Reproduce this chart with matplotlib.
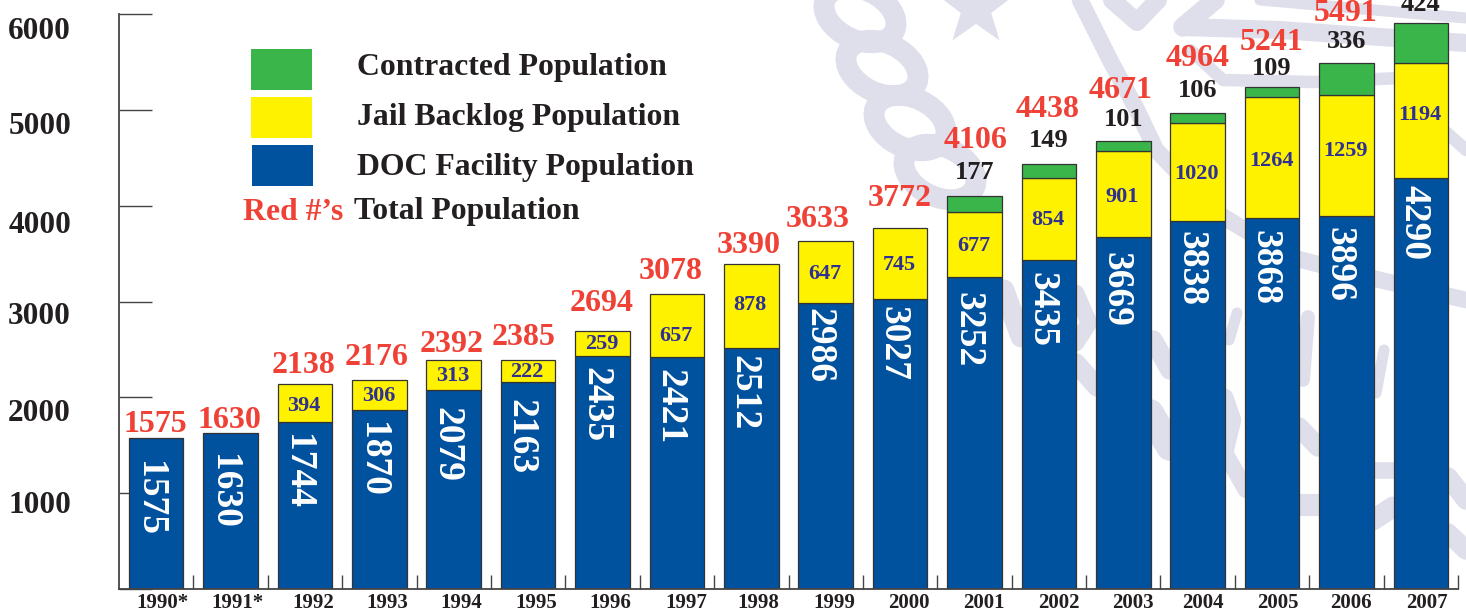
import matplotlib
matplotlib.use('Agg')
import matplotlib.pyplot as plt
from matplotlib.patches import Ellipse, Polygon, Rectangle
from matplotlib.transforms import ScaledTranslation
import numpy as np

plt.rcParams['font.family'] = ['Liberation Serif', 'DejaVu Serif']
plt.rcParams['font.weight'] = 'bold'

W, H = 1466, 611

years = ['1990*', '1991*', '1992', '1993', '1994', '1995', '1996', '1997', '1998',
         '1999', '2000', '2001', '2002', '2003', '2004', '2005', '2006', '2007']
doc_facility = [1575, 1630, 1744, 1870, 2079, 2163, 2435, 2421, 2512,
                2986, 3027, 3252, 3435, 3669, 3838, 3868, 3896, 4290]
jail_backlog = [0, 0, 394, 306, 313, 222, 259, 657, 878,
                647, 745, 677, 854, 901, 1020, 1264, 1259, 1194]
contracted = [0, 0, 0, 0, 0, 0, 0, 0, 0,
              0, 0, 177, 149, 101, 106, 109, 336, 424]
# 2007 total is cut off above the picture
totals = [1575, 1630, 2138, 2176, 2392, 2385, 2694, 3078, 3390,
          3633, 3772, 4106, 4438, 4671, 4964, 5241, 5491, None]
y_ticks = [0, 1000, 2000, 3000, 4000, 5000, 6000]
y_labels = ['', '1000', '2000', '3000', '4000', '5000', '6000']

BLUE = '#00529F'
YELLOW = '#FFF200'
GREEN = '#39B54A'
RED = '#EF4136'
NAVY = '#2E3192'
BLACK = '#231F20'
EDGE = '#333333'
SEAL = '#DEDFEB'

# hand placed label offsets, pixels
total_dx = [-1, -1, -1, -3, -2, -5, -1, -6, -3, -8, 0, 1, -1, -3, 0, 0, -1, 0]
total_dy = [14, 12, 19, 23, 15, 23, 27, 23, 19, 21, 29, 55, 54, 51, 55, 44, 49, 0]
contract_dy = [0] * 11 + [23, 23, 22, 23, 18, 21, 18]
doc_dy = [60, 59, 50, 50, 55, 55, 49, 50, 44, 43, 45, 52, 50, 52, 47, 49, 49, 45]
jail_dy = [0, 0, -3, -1, -1, -1, -1, -10, 1, -2, -2, -1, -1, -3, -2, -3, 4, 6]
y_label_dy = [0, 9, 13, 12, 16, 13, 14]
year_dx = [6, 7, 8, 8, 8, 8, 8, 9, 7, 9, 9, 9, 10, 10, 5, 6, 5, 6]

fig = plt.figure(figsize=(W / 100, H / 100), dpi=100)

# full figure pixel axes for the seal behind the chart and the legend
bg = fig.add_axes([0, 0, 1, 1], zorder=0)
bg.set_xlim(0, W)
bg.set_ylim(H, 0)
bg.axis('off')

# chain links
for cx, cy in [(860, 15), (882, 68), (910, 123), (940, 172)]:
    bg.add_patch(Ellipse((cx, cy), 76, 50, angle=25, fc='none', ec=SEAL, lw=15))

# star
angles = np.deg2rad(np.arange(-90, 270, 36))
radii = np.array([40, 16] * 5)
bg.add_patch(Polygon(np.c_[976 + radii * np.cos(angles), 8 + radii * np.sin(angles)], fc=SEAL, ec='none'))

strokes = [
    ([1080, 1110, 1137, 1156, 1217, 1290, 1380, 1466], [0, 60, 110, 150, 213, 257, 280, 300], 12),
    ([1112, 1137, 1158], [0, 22, 0], 13),
    ([1183, 1280, 1380, 1466], [27, 30, 37, 43], 13),
    ([1190, 1223, 1313, 1400], [50, 80, 82, 78], 9),
    ([1183, 1215], [27, 0], 14),
    ([1260, 1466], [0, 18], 8),
    ([1400, 1447, 1466], [110, 133, 150], 9),
    ([1237, 1229], [313, 340], 8),
    ([1308, 1303], [317, 380], 10),
    ([1384, 1376], [350, 393], 8),
    ([1004, 1021], [290, 337], 15),
    ([1076, 1089, 1076], [293, 323, 343], 12),
    ([1076, 1097], [363, 387], 14),
    ([1153, 1170], [340, 370], 14),
    ([1150, 1170], [413, 447], 20),
    ([1225, 1233, 1225, 1246], [397, 420, 453, 490], 12),
    ([1299, 1318], [427, 447], 14),
    ([1299, 1318], [505, 505], 16),
    ([1373, 1393], [470, 470], 12),
    ([1373, 1393], [520, 507], 15),
    ([1448, 1466], [477, 500], 14),
    ([1448, 1466], [533, 550], 14),
]
for xs, ys, lw in strokes:
    bg.plot(xs, ys, color=SEAL, lw=lw, solid_capstyle='round', solid_joinstyle='round')

# legend
for x0, y0, col in [(251, 49, GREEN), (251, 97, YELLOW), (252, 145, BLUE)]:
    bg.add_patch(Rectangle((x0, y0), 61, 41, fc=col, ec='none'))
legend_size = 22.9
bg.text(357, 67, 'Contracted Population', fontsize=legend_size, color=BLACK, va='center')
bg.text(357, 117, 'Jail Backlog Population', fontsize=legend_size, color=BLACK, va='center')
bg.text(357, 167, 'DOC Facility Population', fontsize=legend_size, color=BLACK, va='center')
bg.text(354, 211, 'Total Population', fontsize=legend_size, color=BLACK, va='center')
bg.text(343, 212, 'Red #\u2019s', fontsize=legend_size, color=RED, va='center', ha='right')

# main chart, y=589 is zero and y=14 is 6000
ax = fig.add_axes([119 / W, 1 - 589 / H, 1339 / W, 575 / H], zorder=1)
ax.patch.set_alpha(0)
ax.set_xlim(-0.5, 17.5)
ax.set_ylim(0, 6000)
ax.set_axisbelow(True)

x = np.arange(len(years))
doc = np.array(doc_facility)
jail = np.array(jail_backlog)
con = np.array(contracted)
bar_w = 0.733
ax.bar(x, doc, bar_w, color=BLUE, edgecolor=EDGE, linewidth=0.9)
ax.bar(x[jail > 0], jail[jail > 0], bar_w, bottom=doc[jail > 0], color=YELLOW, edgecolor=EDGE, linewidth=0.9)
ax.bar(x[con > 0], con[con > 0], bar_w, bottom=(doc + jail)[con > 0], color=GREEN, edgecolor=EDGE, linewidth=0.9)

for i in x:
    ax.annotate(str(doc[i]), (i, doc[i]), xytext=(-7, -doc_dy[i]), textcoords='offset pixels',
                ha='center', va='center', rotation=-90, color='white', fontsize=27)
    if jail[i] > 0:
        ax.annotate(str(jail[i]), (i, doc[i] + jail[i] / 2), xytext=(-1, jail_dy[i]), textcoords='offset pixels',
                    ha='center', va='center', color=NAVY, fontsize=16)
    if con[i] > 0:
        ax.annotate(str(con[i]), (i, doc[i] + jail[i] + con[i]), xytext=(0, contract_dy[i]),
                    textcoords='offset pixels', ha='center', va='center', color=BLACK,
                    fontsize=19, annotation_clip=False)
    if totals[i] is not None:
        ax.annotate(str(totals[i]), (i, doc[i] + jail[i] + con[i]), xytext=(total_dx[i], total_dy[i]),
                    textcoords='offset pixels', ha='center', va='center', color=RED,
                    fontsize=23, annotation_clip=False)

for side in ['top', 'right']:
    ax.spines[side].set_visible(False)
for side in ['left', 'bottom']:
    ax.spines[side].set_color('#444444')
    ax.spines[side].set_linewidth(1.3)

ax.set_yticks(y_ticks)
ax.set_yticklabels(y_labels, fontsize=22.5, color=BLACK)
ax.tick_params(axis='y', direction='in', length=33 * 0.72, width=1, color='#444444', pad=34.5)
for lab, dy in zip(ax.get_yticklabels(), y_label_dy):
    lab.set_transform(lab.get_transform() + ScaledTranslation(0, -dy / 100, fig.dpi_scale_trans))

ax.set_xticks(x)
ax.set_xticklabels(years, fontsize=15, color=BLACK)
ax.set_xticks(list(x + 0.5), minor=True)
ax.tick_params(axis='x', which='major', length=0, pad=3)
ax.tick_params(axis='x', which='minor', direction='in', length=14 * 0.72, width=1, color='#444444')
for lab, dx in zip(ax.get_xticklabels(), year_dx):
    lab.set_transform(lab.get_transform() + ScaledTranslation(dx / 100, 0, fig.dpi_scale_trans))

fig.savefig('out.png', dpi=100)
